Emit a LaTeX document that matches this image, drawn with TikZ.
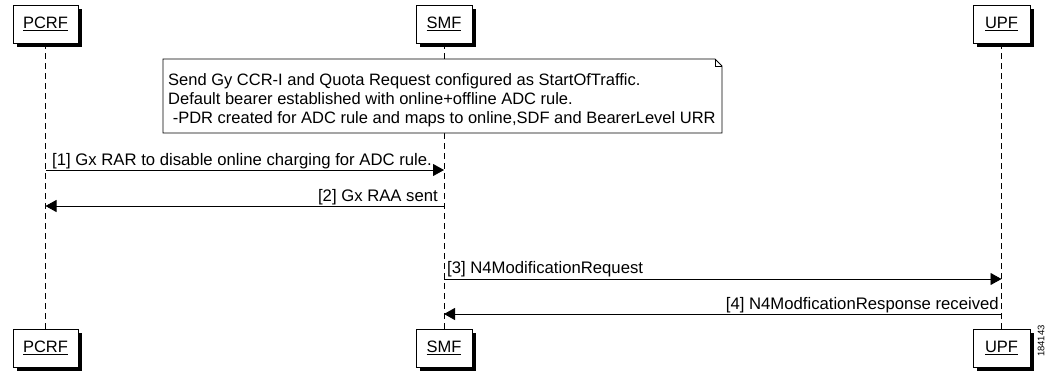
\documentclass[tikz,border=0pt]{standalone}
\usepackage{fontspec}
\setmainfont{Liberation Sans}
\usetikzlibrary{arrows.meta,shadows}
\begin{document}
\begin{tikzpicture}[x=1pt,y=-1pt,
  actor/.style={draw,line width=0.9pt,fill=white,minimum height=38pt,inner sep=0pt,
    font=\fontsize{16.5}{18}\selectfont,
    general shadow={fill=black,shadow xshift=4pt,shadow yshift=-4pt}},
  life/.style={line width=0.8pt,dash pattern=on 6pt off 4pt},
  msg/.style={line width=0.9pt,-{Triangle[length=11pt,width=12pt]}},
  lbl/.style={inner sep=0pt,font=\fontsize{16.7}{18}\selectfont},
  notetext/.style={inner sep=0pt,font=\fontsize{16.5}{18}\selectfont,anchor=base west}]
\useasboundingbox (0,0) rectangle (1047,370);
% actors
\node[actor,minimum width=65pt] (pcrfT) at (45.5,24) {\underline{PCRF}};
\node[actor,minimum width=56pt] (smfT) at (444,24) {\underline{SMF}};
\node[actor,minimum width=57pt] (upfT) at (1001.5,24) {\underline{UPF}};
\node[actor,minimum width=65pt] (pcrfB) at (45.5,348) {\underline{PCRF}};
\node[actor,minimum width=56pt] (smfB) at (444,348) {\underline{SMF}};
\node[actor,minimum width=57pt] (upfB) at (1001.5,348) {\underline{UPF}};
% lifelines
\draw[life] (pcrfT) -- (pcrfB);
\draw[life] (smfT) -- (smfB);
\draw[life] (upfT) -- (upfB);
% note
\draw[line width=0.9pt,fill=white] (163,59) -- (715,59) -- (722,66) -- (722,133) -- (163,133) -- cycle;
\draw[line width=0.7pt] (715,59) -- (715,66) -- (722,66);
\node[notetext] (n1) at (168,85) {Send Gy CCR-I and Quota Request configured as StartOfTraffic.};
\node[notetext] (n2) at (168,104) {Default bearer established with online+offline ADC rule.};
\node[notetext] (n3) at (168,123) {\ -PDR created for ADC rule and maps to online,SDF and BearerLevel URR};
% message end points
\coordinate (p1) at (pcrfT.south |- 0,170);
\coordinate (s1) at (smfT.south |- 0,170);
\coordinate (p2) at (pcrfT.south |- 0,206);
\coordinate (s2) at (smfT.south |- 0,206);
\coordinate (s3) at (smfT.south |- 0,279);
\coordinate (u3) at (upfT.south |- 0,279);
\coordinate (s4) at (smfT.south |- 0,314);
\coordinate (u4) at (upfT.south |- 0,314);
\draw[msg] (p1) -- (s1);
\draw[msg] (s2) -- (p2);
\draw[msg] (s3) -- (u3);
\draw[msg] (u4) -- (s4);
\node[lbl,anchor=base west] (l1) at (52,165) {[1] Gx RAR to disable online charging for ADC rule.};
\node[lbl,anchor=base east] (l2) at (438,201) {[2] Gx RAA sent};
\node[lbl,anchor=base west] (l3) at (447,273) {[3] N4ModificationRequest};
\node[lbl,anchor=base east] (l4) at (999,309) {[4] N4ModficationResponse received};
\node[rotate=90,inner sep=1pt,fill=white,font=\fontsize{9.5}{10}\selectfont] (id) at (1041,341) {184143};
\end{tikzpicture}
\end{document}
